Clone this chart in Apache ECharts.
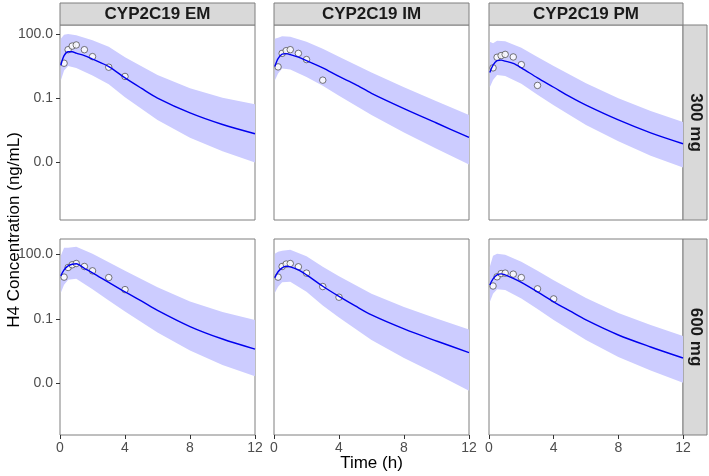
<!DOCTYPE html>
<html><head><meta charset="utf-8">
<script src="https://cdn.jsdelivr.net/npm/echarts@6/dist/echarts.min.js"></script>
<style>html,body{margin:0;padding:0;background:#fff}#c{width:709px;height:476px}</style>
</head><body><div id="c"></div>
<script>
// ---- data ----
const genotypes = ['CYP2C19 EM', 'CYP2C19 IM', 'CYP2C19 PM'];
const doses = ['300 mg', '600 mg'];
const xTicks = [0, 4, 8, 12];
const yTicks = [0.0001, 0.1, 100];

const timeMed = [0.05, 0.25, 0.5, 0.75, 1, 1.5, 2, 3, 4, 5, 6, 8, 10, 12];
const timeBand = [0.05, 0.25, 0.5, 1, 2, 3, 4, 6, 8, 10, 12];
const timeObs8 = [0.25, 0.5, 0.75, 1, 1.5, 2, 3, 4];
const timeObs7 = [0.25, 0.5, 0.75, 1, 1.5, 2, 3];

const medEM300 = [3.4, 9.8, 15, 15, 12.8, 9.8, 6.7, 3.0, 0.88, 0.29, 0.10, 0.020, 0.0057, 0.0021];
const medIM300 = [3.0, 7.1, 11.5, 12.1, 10.9, 8.3, 5.7, 2.6, 1.03, 0.44, 0.167, 0.032, 0.0067, 0.0014];
const medPM300 = [1.58, 3.5, 5.7, 6.0, 5.4, 4.2, 2.6, 0.88, 0.32, 0.115, 0.046, 0.0093, 0.0023, 0.00071];
const medEM600 = [10.1, 19.3, 29.6, 34.8, 36.7, 22.6, 14.0, 5.0, 1.81, 0.69, 0.25, 0.044, 0.0115, 0.0039];
const medIM600 = [8.2, 15.6, 23.9, 28.1, 26.6, 19.3, 11.2, 3.3, 1.11, 0.40, 0.152, 0.034, 0.0093, 0.0027];
const medPM600 = [3.8, 7.3, 11.2, 12.5, 11.2, 7.7, 5.0, 1.81, 0.62, 0.234, 0.089, 0.0177, 0.0049, 0.0015];

const hiEM300 = [60.5, 92.9, 103, 87.9, 51.5, 25.6, 8.3, 1.21, 0.286, 0.103, 0.0514];
const loEM300 = [0.673, 1.96, 3.18, 2.56, 1.15, 0.439, 0.109, 0.0093, 0.00135, 0.000318, 0.0000927];
const hiIM300 = [60.4, 67.3, 78.9, 74.8, 43.9, 20.7, 8.79, 1.58, 0.318, 0.071, 0.0158];
const loIM300 = [0.673, 1.42, 2.43, 2.18, 0.98, 0.373, 0.128, 0.0158, 0.00243, 0.000416, 0.0000748];
const hiPM300 = [43.9, 37.3, 48.8, 46.2, 23.0, 8.34, 3.18, 0.488, 0.0977, 0.0243, 0.00748];
const loPM300 = [0.318, 0.71, 1.21, 1.09, 0.462, 0.142, 0.0462, 0.00543, 0.000927, 0.000196, 0.0000543];
const hiEM600 = [86.9, 205, 206, 229, 108, 43.2, 17.3, 2.93, 0.65, 0.21, 0.0885];
const loEM600 = [1.63, 3.84, 6.58, 7.31, 2.37, 0.724, 0.222, 0.0232, 0.00334, 0.000703, 0.000215];
const hiIM600 = [108, 134, 149, 166, 82.2, 26.6, 9.57, 1.46, 0.359, 0.104, 0.0319];
const loIM600 = [1.62, 3.1, 5.04, 5.3, 1.81, 0.424, 0.116, 0.0103, 0.00149, 0.000267, 0.0000452];
const hiPM600 = [26.6, 86.7, 108, 96.6, 45.5, 17.3, 6.22, 0.946, 0.188, 0.0518, 0.0158];
const loPM600 = [0.617, 1.46, 2.37, 2.24, 0.899, 0.29, 0.0889, 0.0104, 0.00166, 0.000389, 0.000107];

const obsEM300 = [4.3, 18.6, 27.5, 31, 18.6, 8.8, 2.8, 1.03];
const obsIM300 = [2.9, 12.5, 16.7, 18.6, 12.5, 6.4, 0.69];
const obsPM300 = [2.6, 8.2, 9.8, 11.2, 8.5, 3.7, 0.39];
const obsEM600 = [8.8, 24.7, 33, 38, 27.5, 17.3, 8.4, 2.3];
const obsIM600 = [8.8, 27.5, 35.6, 37.9, 26.6, 13.5, 3.2, 1.02];
const obsPM600 = [3.4, 9.1, 12.9, 13.5, 12.1, 8.4, 2.5, 0.85];

// ---- layout ----
const panels = [
  {c: 0, r: 0, med: medEM300, hi: hiEM300, lo: loEM300, obsT: timeObs8, obs: obsEM300},
  {c: 1, r: 0, med: medIM300, hi: hiIM300, lo: loIM300, obsT: timeObs7, obs: obsIM300},
  {c: 2, r: 0, med: medPM300, hi: hiPM300, lo: loPM300, obsT: timeObs7, obs: obsPM300},
  {c: 0, r: 1, med: medEM600, hi: hiEM600, lo: loEM600, obsT: timeObs8, obs: obsEM600},
  {c: 1, r: 1, med: medIM600, hi: hiIM600, lo: loIM600, obsT: timeObs8, obs: obsIM600},
  {c: 2, r: 1, med: medPM600, hi: hiPM600, lo: loPM600, obsT: timeObs8, obs: obsPM600}
];
const colLeft = [60, 274, 489], colW = [195, 195, 194];
const rowTop = [25, 239], rowH = [195, 196];
const yMin = [1.86e-7, 3.89e-7], yMax = [269, 525];
const FONT = '"Liberation Sans", Arial, sans-serif';
const BORDER = '#7f7f7f';

const grid = [], xAxis = [], yAxis = [], series = [];
panels.forEach((p, i) => {
  grid.push({left: colLeft[p.c], top: rowTop[p.r], width: colW[p.c], height: rowH[p.r],
    show: true, borderColor: BORDER, borderWidth: 1, backgroundColor: '#fff', outerBoundsMode: 'none'});
  xAxis.push({gridIndex: i, type: 'value', min: 0, max: 12, interval: 4,
    splitLine: {show: false}, axisLine: {show: false},
    axisTick: {show: p.r === 1, length: 4, lineStyle: {color: '#333'}},
    axisLabel: {show: p.r === 1, color: '#4d4d4d', fontSize: 14, margin: 6, fontFamily: FONT,
      showMinLabel: true, showMaxLabel: true}});
  yAxis.push({gridIndex: i, type: 'log', logBase: 10, min: yMin[p.r], max: yMax[p.r],
    splitLine: {show: false}, axisLine: {show: false},
    axisTick: {show: p.c === 0, length: 4, customValues: yTicks, lineStyle: {color: '#333'}},
    axisLabel: {show: p.c === 0, customValues: yTicks, color: '#4d4d4d', fontSize: 14, margin: 7,
      fontFamily: FONT, formatter: v => Number(v).toFixed(1)}});
  series.push({
    type: 'custom', xAxisIndex: i, yAxisIndex: i, silent: true,
    data: timeBand.map((t, k) => [t, p.lo[k], p.hi[k]]),
    encode: {x: 0, y: [1, 2]},
    renderItem: (params, api) => {
      if (params.dataIndex !== 0) return {type: 'group', children: []};
      const up = timeBand.map((t, k) => api.coord([t, p.hi[k]]));
      const dn = timeBand.map((t, k) => api.coord([t, p.lo[k]])).reverse();
      return {type: 'polygon', shape: {points: up.concat(dn)}, style: {fill: '#ccccff'}};
    }
  });
  series.push({type: 'line', xAxisIndex: i, yAxisIndex: i, showSymbol: false, smooth: 0.3,
    data: timeMed.map((t, k) => [t, p.med[k]]),
    lineStyle: {color: '#0000ee', width: 1.4}});
  series.push({type: 'scatter', xAxisIndex: i, yAxisIndex: i, symbolSize: 6.5,
    data: p.obsT.map((t, k) => [t, p.obs[k]]),
    itemStyle: {color: '#ffffff', borderColor: '#444444', borderWidth: 0.9}});
});

const graphic = [];
genotypes.forEach((g, c) => {
  graphic.push({type: 'rect', shape: {x: colLeft[c], y: 3, width: colW[c], height: 22},
    style: {fill: '#d9d9d9', stroke: BORDER, lineWidth: 1}});
  graphic.push({type: 'text', x: colLeft[c] + colW[c] / 2, y: 14.5,
    style: {text: g, fill: '#1a1a1a', font: 'bold 17px ' + FONT, textAlign: 'center', textVerticalAlign: 'middle', align: 'center', verticalAlign: 'middle'}});
});
doses.forEach((d, r) => {
  graphic.push({type: 'rect', shape: {x: 683, y: rowTop[r], width: 24, height: rowH[r]},
    style: {fill: '#d9d9d9', stroke: BORDER, lineWidth: 1}});
  graphic.push({type: 'text', x: 695.5, y: rowTop[r] + rowH[r] / 2, rotation: -Math.PI / 2,
    style: {text: d, fill: '#1a1a1a', font: 'bold 17px ' + FONT, textAlign: 'center', textVerticalAlign: 'middle', align: 'center', verticalAlign: 'middle'}});
});
graphic.push({type: 'text', x: 14, y: 230, rotation: Math.PI / 2,
  style: {text: 'H4 Concentration (ng/mL)', fill: '#000', font: '17px ' + FONT, textAlign: 'center', textVerticalAlign: 'middle', align: 'center', verticalAlign: 'middle'}});
graphic.push({type: 'text', x: 371.5, y: 463,
  style: {text: 'Time (h)', fill: '#000', font: '17px ' + FONT, textAlign: 'center', textVerticalAlign: 'middle', align: 'center', verticalAlign: 'middle'}});

const chart = echarts.init(document.getElementById('c'), null, {renderer: 'canvas'});
chart.setOption({animation: false, backgroundColor: '#fff', grid, xAxis, yAxis, series, graphic});
</script></body></html>
